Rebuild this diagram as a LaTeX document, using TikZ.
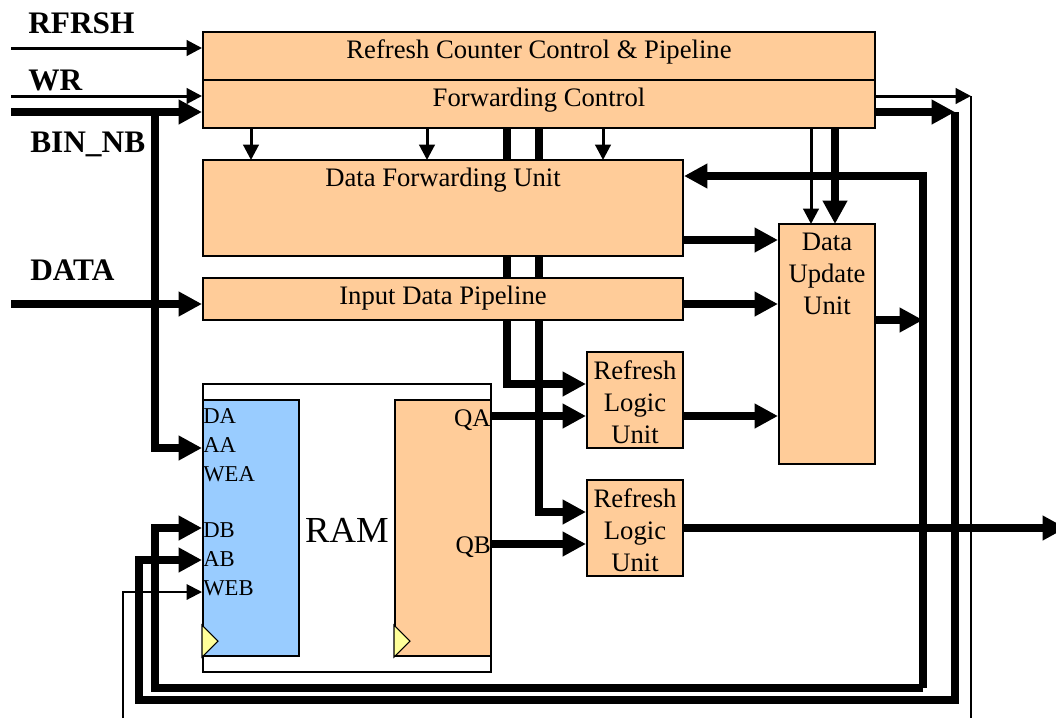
\documentclass[tikz,border=0pt]{standalone}
\usepackage{fontspec}
\setmainfont{Liberation Serif}
\usetikzlibrary{arrows.meta,backgrounds}

\definecolor{boxorange}{RGB}{255,204,153}
\definecolor{ramblue}{RGB}{153,204,255}
\definecolor{clockyellow}{RGB}{255,255,153}

\tikzset{
	unitbox/.style={draw, line width=1.5pt, fill=boxorange, inner sep=0pt, minimum width=#1},
	unittext/.style={inner sep=0pt, align=center, font=\fontsize{20}{24}\selectfont},
	porttext/.style={inner sep=0pt, font=\fontsize{17}{20}\selectfont},
	signaltext/.style={inner sep=0pt, anchor=west, font=\fontsize{23.5}{26}\selectfont\bfseries},
	busarrow/.style={line width=6pt, -{Triangle[length=17.5pt,width=17.5pt]}},
	wirearrow/.style={line width=2.25pt, -{Triangle[length=11.5pt,width=11.5pt]}},
	thinwire/.style={line width=1.5pt},
	thinarrow/.style={line width=1.5pt, -{Triangle[length=11.5pt,width=11.5pt]}},
	clocktip/.style={draw, line width=0.8pt, fill=clockyellow},
}

\begin{document}
\begin{tikzpicture}[x=0.75pt, y=-0.75pt]
			\useasboundingbox (0,0) rectangle (1056,719);
			% units
			\node[unitbox=504pt, minimum height=36pt] (refresh) at (539,56) {};
			\node[unitbox=504pt, minimum height=36pt] (forward) at (539,104) {};
			\node[unitbox=360pt, minimum height=72pt] (dfu) at (443,208) {};
			\node[unitbox=360pt, minimum height=31.5pt] (idp) at (443,299) {};
			\node[unitbox=72pt, minimum height=180pt] (duu) at (827,344) {};
			\node[unitbox=72pt, minimum height=72pt] (rlua) at (635,400) {};
			\node[unitbox=72pt, minimum height=72pt] (rlub) at (635,528) {};
			\node[unittext] (refreshtext) at (539,52) {Refresh Counter Control \& Pipeline};
			\node[unittext] (forwardtext) at (539,100) {Forwarding Control};
			\node[unittext] (dfutext) at (443,180) {Data Forwarding Unit};
			\node[unittext] (idptext) at (443,298) {Input Data Pipeline};
			\node[unittext] (duutext) at (827,274) {Data\\Update\\Unit};
			\node[unittext] (rluatext) at (635,402) {Refresh\\Logic\\Unit};
			\node[unittext] (rlubtext) at (635,530) {Refresh\\Logic\\Unit};
			% RAM
			\node[draw, line width=1.5pt, fill=white, inner sep=0pt, minimum width=216pt, minimum height=216pt] (ram) at (347,528) {};
			\node[draw, line width=1.5pt, fill=ramblue, inner sep=0pt, minimum width=72pt, minimum height=192pt] (porta) at (251,528) {};
			\node[unitbox=72pt, minimum height=192pt] (portb) at (443,528) {};
			\draw[clocktip] (porta.south west) ++(0,-32) -- ++(16,16) -- ++(-16,16) -- cycle;
			\draw[clocktip] (portb.south west) ++(0,-32) -- ++(16,16) -- ++(-16,16) -- cycle;
			\node[inner sep=0pt, font=\fontsize{27.5}{30}\selectfont] (ramtext) at (347,530) {RAM};
			\node[porttext, anchor=west] (da) at (203,416) {DA};
			\node[porttext, anchor=west] (aa) at (203,445) {AA};
			\node[porttext, anchor=west] (wea) at (203,474) {WEA};
			\node[porttext, anchor=west] (db) at (203,530) {DB};
			\node[porttext, anchor=west] (ab) at (203,559) {AB};
			\node[porttext, anchor=west] (web) at (203,588) {WEB};
			\node[porttext, anchor=east, font=\fontsize{19}{20}\selectfont] (qa) at (491,420) {QA};
			\node[porttext, anchor=east, font=\fontsize{19}{20}\selectfont] (qb) at (491,547) {QB};
			% signal names
			\node[signaltext] (rfrshtext) at (28,23) {RFRSH};
			\node[signaltext] (wrtext) at (28,80) {WR};
			\node[signaltext] (bintext) at (30,144) {BIN\_NB};
			\node[signaltext] (datatext) at (30,270) {DATA};
			% free ends and bends
			\coordinate (rfrshin) at (11,48);
			\coordinate (wrin) at (11,96);
			\coordinate (binin) at (11,112);
			\coordinate (datain) at (11,304);
			\coordinate (aain) at (155,448);
			\coordinate (dbin) at (155,528);
			\coordinate (abin) at (139,560);
			\coordinate (webin) at (123,592);
			\coordinate (webend) at (123,718);
			\coordinate (fbk) at (923,176);
			\coordinate (fbkend) at (923,688);
			\coordinate (out) at (955,112);
			\coordinate (outend) at (955,700);
			\coordinate (wrout) at (971,96);
			\coordinate (wrend) at (971,718);
			\coordinate (dout) at (1066,528);
			\begin{pgfonlayer}{background}
				% inputs
				\draw[wirearrow] (rfrshin) -- (refresh.west |- rfrshin);
				\draw[wirearrow] (wrin) -- (forward.west |- wrin);
				\draw[busarrow] (binin) -- (forward.west |- binin);
				\draw[busarrow] (datain) -- (idp.west |- datain);
				\draw[busarrow] (aain |- binin) -- (aain) -- (porta.west |- aain);
				% control
				\foreach \xpos in {251,427,603}
					\draw[wirearrow] (\xpos,128) -- (\xpos,160);
				\draw[wirearrow] (811,128) -- (811,224);
				\draw[busarrow] (835,128) -- (835,224);
				\draw[busarrow] (507,128) -- (507,384) -- (rlua.west |- 0,384);
				\draw[busarrow] (539,128) -- (539,512) -- (rlub.west |- 0,512);
				% data
				\draw[busarrow] (dfu.east |- 0,240) -- (duu.west |- 0,240);
				\draw[busarrow] (idp.east |- 0,304) -- (duu.west |- 0,304);
				\draw[busarrow] (rlua.east |- 0,416) -- (duu.west |- 0,416);
				\draw[busarrow] (portb.east |- 0,416) -- (rlua.west |- 0,416);
				\draw[busarrow] (portb.east |- 0,544) -- (rlub.west |- 0,544);
				\draw[busarrow] (rlub.east) -- (dout);
				\draw[busarrow] (duu.east |- 0,320) -- (fbk |- 0,320);
				% loops back to the RAM
				\draw[busarrow] (fbkend) -- (fbk) -- (dfu.east |- fbk);
				\draw[busarrow] (fbkend) -- (dbin |- fbkend) -- (dbin) -- (porta.west |- dbin);
				\draw[busarrow] (forward.east |- out) -- (out);
				\draw[busarrow] (out) -- (outend) -- (abin |- outend) -- (abin) -- (porta.west |- abin);
				\draw[wirearrow] (forward.east |- wrout) -- (wrout);
				\draw[thinwire] (wrout) -- (wrend);
				\draw[thinarrow] (webend) -- (webin) -- (porta.west |- webin);
			\end{pgfonlayer}
\end{tikzpicture}
\end{document}
